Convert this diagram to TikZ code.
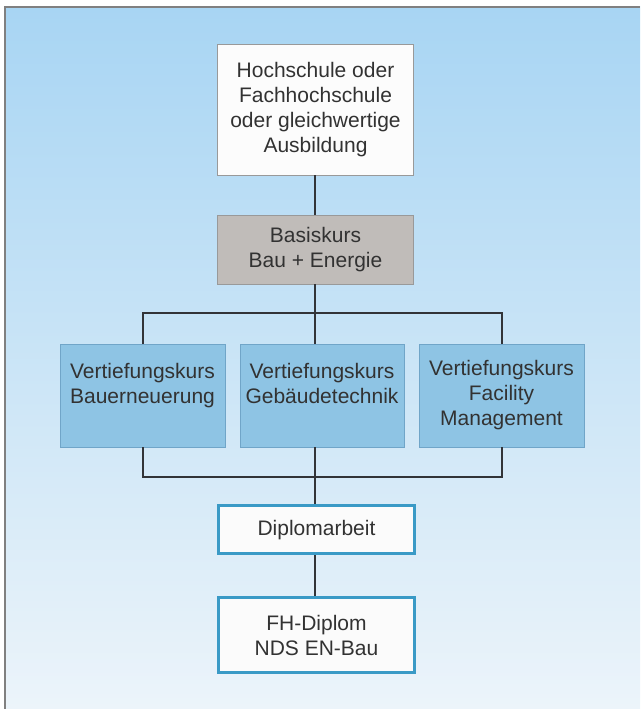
\documentclass[tikz,border=0pt]{standalone}
\usepackage{fontspec}
\setmainfont{Liberation Sans}
\definecolor{sky}{RGB}{168, 213, 243}
\definecolor{skylight}{RGB}{236, 244, 250}
\definecolor{kurs}{RGB}{142, 196, 228}
\definecolor{kursline}{RGB}{112, 165, 200}
\definecolor{basis}{RGB}{192, 188, 185}
\definecolor{frameblue}{RGB}{58, 154, 198}
\definecolor{ink}{RGB}{50, 50, 50}
\definecolor{wire}{RGB}{50, 52, 56}

\tikzset{
  box/.style={draw=gray!80, line width=0.8pt, text=ink, align=center,
    font=\fontsize{21}{25}\selectfont, inner sep=0pt},
  kursbox/.style={box, fill=kurs, draw=kursline, minimum width=165, minimum height=103},
  endbox/.style={box, fill=white!97!gray, draw=frameblue, line width=3pt, minimum width=196},
  wirestyle/.style={draw=wire, line width=2pt}
}

\begin{document}
\begin{tikzpicture}[x=1pt, y=1pt]
\useasboundingbox (0,0) rectangle (640,709);

% Background with frame
\fill[white] (0,0) rectangle (640,709);
\shade[top color=sky, bottom color=skylight] (5,0) rectangle (640,702);
\draw[gray, line width=1.5pt] (5,0) -- (5,702) -- (640,702);

% Entry boxes
\node[box, fill=white!98!gray, minimum width=196, minimum height=131] (hoch) at (315.5,599.5)
  {Hochschule oder\\Fachhochschule\\oder gleichwertige\\Ausbildung};
\node[box, fill=basis, minimum width=196, minimum height=69] (basis) at (315.5,459.5)
  {Basiskurs\\Bau + Energie};

% Vertiefungskurse
\node[kursbox] (bau) at (142.5,313.5) {Vertiefungskurs\\Bauerneuerung\\\phantom{X}};
\node[kursbox, minimum width=164] (geb) at (322,313.5) {Vertiefungskurs\\Gebäudetechnik\\\phantom{X}};
\node[kursbox] (fm) at (501.5,313.5) {Vertiefungskurs\\Facility\\Management};

% Final boxes
\node[endbox, minimum height=48] (dipl) at (316.5,179) {Diplomarbeit};
\node[endbox, minimum height=75] (fh) at (316.5,74) {FH-Diplom\\NDS EN-Bau};

% Connectors
\coordinate (top) at (315,395.5);
\coordinate (bot) at (315,232);
\draw[wirestyle] (hoch.south -| top) -- (basis.north -| top);
\draw[wirestyle] (basis.south -| top) -- (geb.north -| top);
\draw[wirestyle] (bau.north) |- (top) -| (fm.north);
\draw[wirestyle] (bau.south) |- (bot) -| (fm.south);
\draw[wirestyle] (geb.south -| bot) -- (dipl.north -| bot);
\draw[wirestyle] (dipl.south -| bot) -- (fh.north -| bot);

\end{tikzpicture}
\end{document}
